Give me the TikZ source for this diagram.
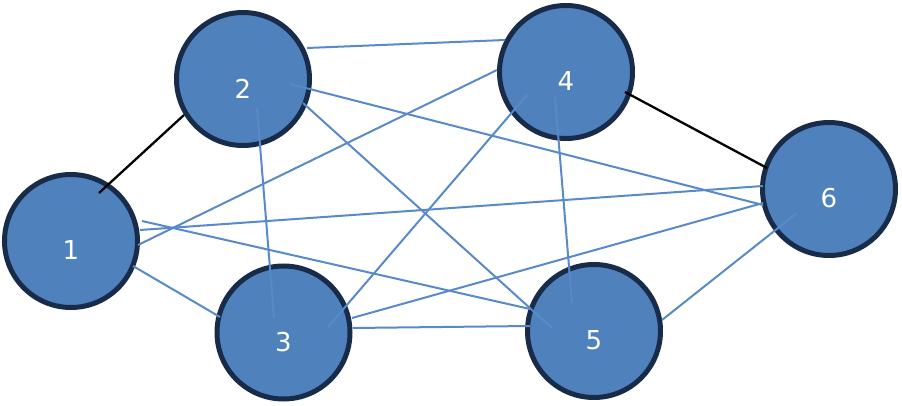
\documentclass[tikz,border=0pt]{standalone}
\usepackage{fontspec}
\setmainfont{DejaVu Sans}
\usetikzlibrary{calc}
\definecolor{nodefill}{RGB}{79,129,189}
\definecolor{nodeline}{RGB}{24,44,74}
\definecolor{edgeblue}{RGB}{88,138,202}
\begin{document}
\begin{tikzpicture}[x=1pt,y=-1pt,
  vertex/.style={circle,draw=nodeline,line width=5pt,fill=nodefill,minimum size=133pt,inner sep=0pt},
  num/.style={text=white,font=\fontsize{26}{26}\selectfont,inner sep=0pt,yshift=-9.5pt},
  blueline/.style={draw=edgeblue,line width=2pt},
  darkline/.style={draw=black,line width=2.3pt}]
\useasboundingbox (0,0) rectangle (902,406);
\node[vertex,label={[num,name=l1]center:1}] (n1) at (71,241) {};
\node[vertex,label={[num,name=l2]center:2}] (n2) at (243,79) {};
\node[vertex,label={[num,name=l3]center:3}] (n3) at (283.5,332.5) {};
\node[vertex,label={[num,name=l4]center:4}] (n4) at (566,72) {};
\node[vertex,label={[num,name=l5]center:5}] (n5) at (594,331) {};
\node[vertex,label={[num,name=l6]center:6}] (n6) at (829,189) {};
% black connectors
\draw[darkline] ($(n1)+(28,-48)$) -- ($(n2)+(-59,36)$);
\draw[darkline] ($(n4)+(59,20)$) -- ($(n6)+(-62,-21)$);
% blue connectors
\draw[blueline] ($(n2)+(64,-31)$) -- ($(n4)+(-61,-32)$);
\draw[blueline] ($(n2)+(47,5)$) -- ($(n6)+(-66,16)$);
\draw[blueline] ($(n2)+(60,24)$) -- ($(n5)+(-42,-3)$);
\draw[blueline] ($(n2)+(14,29)$) -- ($(n3)+(-9.5,-14.5)$);
\draw[blueline] ($(n1)+(67,4)$) -- ($(n4)+(-69,-2)$);
\draw[blueline] ($(n1)+(69,-11)$) -- ($(n6)+(-66,-3)$);
\draw[blueline] ($(n1)+(71,-20)$) -- ($(n5)+(-64,-22)$);
\draw[blueline] ($(n1)+(62,25)$) -- ($(n3)+(-63.5,-15.5)$);
\draw[blueline] ($(n3)+(44.5,-5.5)$) -- ($(n4)+(-39,23)$);
\draw[blueline] ($(n3)+(68.5,-14.5)$) -- ($(n6)+(-66,14)$);
\draw[blueline] ($(n3)+(69.5,-4.5)$) -- ($(n5)+(-64,-5)$);
\draw[blueline] ($(n4)+(-11,25)$) -- ($(n5)+(-22,-28)$);
\draw[blueline] ($(n5)+(68,-11)$) -- ($(n6)+(-32,24)$);
\end{tikzpicture}
\end{document}
